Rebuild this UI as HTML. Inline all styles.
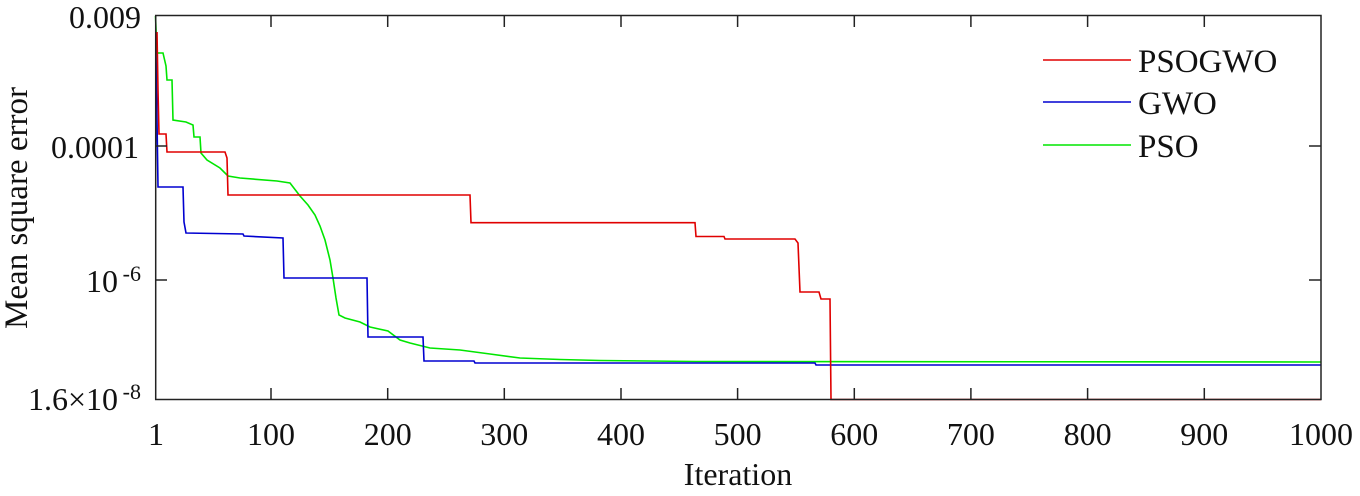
<!DOCTYPE html>
<html><head><meta charset="utf-8"><style>
html,body{margin:0;padding:0;background:#fff;}
svg{display:block;}
text{font-family:"Liberation Serif",serif;fill:#111;}
</style></head><body>
<svg width="1360" height="496" viewBox="0 0 1360 496" xmlns="http://www.w3.org/2000/svg">
<rect x="0" y="0" width="1360" height="496" fill="#fff"/>
<polyline fill="none" stroke="#00e600" stroke-width="1.6" points="155.5,16 157,53 163,53 166,66 167,80 172,80 173,120 186,122 193,125 194,137 200,137 201,153 207,160 220,168 228,176 240,178 277,181 290,183 300,196 308,205 315,215 320,226 325,240 330,260 333,278 336,298 339,315 345,318 360,322 370,327 388,331 400,340 410,343 430,348 460,350 490,354 520,358 560,359.5 600,360.5 696,361.5 1321,362"/>
<polyline fill="none" stroke="#0000d0" stroke-width="1.6" points="156,50 157,120 158,187 183,187 184,222 186,233 243,234 244,236 283,238 284,278 367,278 368,337 423,337 424,361 474,361 475,363 815,363 816,365 1321,365"/>
<polyline fill="none" stroke="#e00000" stroke-width="1.6" points="156,45 157,32 158,90 159,134 166,134 167,152 225,152 227,158 228,195 470,195 471,222.7 695,222.7 696,236.5 724,236.5 725,239 795,239 798,243 800,292 819,292 821,299 830,299 831,399.5 1321,399.5"/>
<rect x="155.7" y="15.5" width="1165.3" height="384" fill="none" stroke="#222" stroke-width="1.5"/>
<g stroke="#222" stroke-width="1.5">
<line x1="271" y1="399.5" x2="271" y2="388"/><line x1="271" y1="15.5" x2="271" y2="27"/>
<line x1="387.7" y1="399.5" x2="387.7" y2="388"/><line x1="387.7" y1="15.5" x2="387.7" y2="27"/>
<line x1="504.3" y1="399.5" x2="504.3" y2="388"/><line x1="504.3" y1="15.5" x2="504.3" y2="27"/>
<line x1="621" y1="399.5" x2="621" y2="388"/><line x1="621" y1="15.5" x2="621" y2="27"/>
<line x1="737.6" y1="399.5" x2="737.6" y2="388"/><line x1="737.6" y1="15.5" x2="737.6" y2="27"/>
<line x1="854.3" y1="399.5" x2="854.3" y2="388"/><line x1="854.3" y1="15.5" x2="854.3" y2="27"/>
<line x1="970.9" y1="399.5" x2="970.9" y2="388"/><line x1="970.9" y1="15.5" x2="970.9" y2="27"/>
<line x1="1087.6" y1="399.5" x2="1087.6" y2="388"/><line x1="1087.6" y1="15.5" x2="1087.6" y2="27"/>
<line x1="1204.3" y1="399.5" x2="1204.3" y2="388"/><line x1="1204.3" y1="15.5" x2="1204.3" y2="27"/>
<line x1="155.7" y1="146" x2="167" y2="146"/><line x1="1321" y1="146" x2="1309" y2="146"/>
<line x1="155.7" y1="280" x2="167" y2="280"/><line x1="1321" y1="280" x2="1309" y2="280"/>
</g>
<g font-size="32" text-anchor="middle">
<text x="156" y="445">1</text>
<text x="271" y="445">100</text>
<text x="387.7" y="445">200</text>
<text x="504.3" y="445">300</text>
<text x="621" y="445">400</text>
<text x="737.6" y="445">500</text>
<text x="854.3" y="445">600</text>
<text x="970.9" y="445">700</text>
<text x="1087.6" y="445">800</text>
<text x="1204.3" y="445">900</text>
<text x="1321" y="445">1000</text>
<text x="738" y="485">Iteration</text>
</g>
<g font-size="32" text-anchor="end">
<text x="141" y="28">0.009</text>
<text x="139" y="158">0.0001</text>
<text x="118" y="292">10</text>
<text x="141" y="281" font-size="22">-6</text>
<text x="118" y="410">1.6×10</text>
<text x="141" y="399" font-size="22">-8</text>
</g>
<text font-size="33" text-anchor="middle" transform="translate(27,208) rotate(-90)">Mean square error</text>
<g stroke-width="1.6">
<line x1="1043" y1="60" x2="1131" y2="60" stroke="#e00000"/>
<line x1="1043" y1="102" x2="1131" y2="102" stroke="#0000d0"/>
<line x1="1043" y1="145" x2="1131" y2="145" stroke="#00e600"/>
</g>
<g font-size="33">
<text x="1138" y="72">PSOGWO</text>
<text x="1138" y="114">GWO</text>
<text x="1138" y="157">PSO</text>
</g>
</svg>
</body></html>
